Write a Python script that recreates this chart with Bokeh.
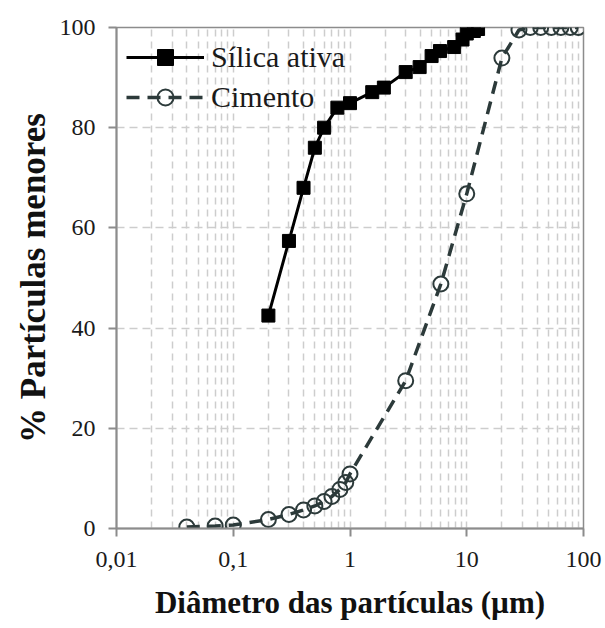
from bokeh.plotting import figure
from bokeh.models import FixedTicker, CustomJSTickFormatter, Range1d
from bokeh.embed import file_html
from bokeh.resources import INLINE

# ---- data ----
silica_d = [0.2, 0.3, 0.4, 0.5, 0.6, 0.78, 1.0, 1.55, 1.95, 3.0, 3.95, 5.0, 5.9, 7.8, 9.2, 10.0, 11.5, 12.5]
silica_p = [42.5, 57.4, 68.0, 76.0, 80.0, 84.0, 84.9, 87.1, 88.0, 91.1, 92.1, 94.3, 95.3, 96.1, 97.6, 98.8, 99.3, 99.7]

cim_d = [0.04, 0.07, 0.1, 0.2, 0.3, 0.4, 0.5, 0.6, 0.7, 0.82, 0.92, 1.0, 3.0, 6.0, 10.0, 20.0,
         28.0, 35.0, 43.0, 53.0, 64.0, 77.0, 90.0]
cim_p = [0.3, 0.5, 0.7, 1.8, 2.8, 3.7, 4.5, 5.4, 6.4, 7.8, 9.2, 10.9, 29.5, 48.8, 66.8, 93.9,
         99.5, 100, 100, 100, 100, 100, 100]

x_ticks = [0.01, 0.1, 1, 10, 100]
y_ticks = [0, 20, 40, 60, 80, 100]
x_minor = [m * d for d in [0.01, 0.1, 1, 10] for m in range(2, 10)]

FONT = "Liberation Serif"
GRID = "#cdcdcd"
AXC = "#8c8c8c"
CIM = "#2c3a3a"

p = figure(width=605, height=628, x_axis_type="log",
           x_range=Range1d(0.01, 100), y_range=Range1d(0, 100),
           output_backend="svg", toolbar_location=None,
           min_border_left=116, min_border_top=27, min_border_right=22, min_border_bottom=100)

p.background_fill_color = "white"
p.outline_line_color = AXC
p.outline_line_width = 1.5

# grids
p.xaxis.ticker = FixedTicker(ticks=x_ticks, minor_ticks=x_minor)
p.yaxis.ticker = FixedTicker(ticks=y_ticks)
p.xgrid.grid_line_color = GRID
p.xgrid.grid_line_dash = "7 5"
p.xgrid.grid_line_width = 1.5
p.xgrid.minor_grid_line_color = GRID
p.xgrid.minor_grid_line_dash = "7 5"
p.xgrid.minor_grid_line_width = 1.5
p.ygrid.grid_line_color = GRID
p.ygrid.grid_line_dash = "8 5"
p.ygrid.grid_line_width = 1.5

# axes
for ax in (p.xaxis[0], p.yaxis[0]):
    ax.axis_line_color = AXC
    ax.axis_line_width = 2
    ax.major_tick_line_color = AXC
    ax.major_tick_line_width = 2
    ax.major_tick_out = 8
    ax.major_tick_in = 0
    ax.minor_tick_line_color = None
    ax.major_label_text_font = FONT
    ax.major_label_text_font_size = "24px"
    ax.major_label_text_color = "#1a1a1a"
    ax.axis_label_text_font = FONT
    ax.axis_label_text_font_style = "bold"
    ax.axis_label_text_color = "#111111"

p.xaxis.major_label_standoff = 15
p.yaxis.major_label_standoff = 13
p.xaxis.axis_label_text_font_size = "31px"
p.yaxis.axis_label_text_font_size = "35px"

p.xaxis.formatter = CustomJSTickFormatter(code="return String(tick).replace('.', ',');")
p.xaxis.axis_label = "Diâmetro das partículas (µm)"
p.yaxis.axis_label = "% Partículas menores"
p.xaxis.axis_label_standoff = 15
p.yaxis.axis_label_standoff = 4

# series
p.line(silica_d, silica_p, line_color="black", line_width=3, legend_label="Sílica ativa")
p.scatter(silica_d, silica_p, marker="square", size=13, fill_color="black", line_color="black",
          legend_label="Sílica ativa")

p.line(cim_d, cim_p, line_color=CIM, line_width=3.5, line_dash="13 8", legend_label="Cimento")
p.scatter(cim_d, cim_p, marker="circle", size=15, fill_color=None, line_color=CIM, line_width=2,
          legend_label="Cimento")

lg = p.legend[0]
lg.location = "top_left"
lg.margin = 10
lg.padding = 0
lg.glyph_width = 78
lg.glyph_height = 40
lg.label_height = 40
lg.spacing = 0
lg.label_standoff = 7
lg.label_text_font = FONT
lg.label_text_font_size = "30px"
lg.label_text_color = "#1a1a1a"
lg.background_fill_alpha = 0
lg.border_line_color = None

open("out.html", "w").write(file_html(p, INLINE))
